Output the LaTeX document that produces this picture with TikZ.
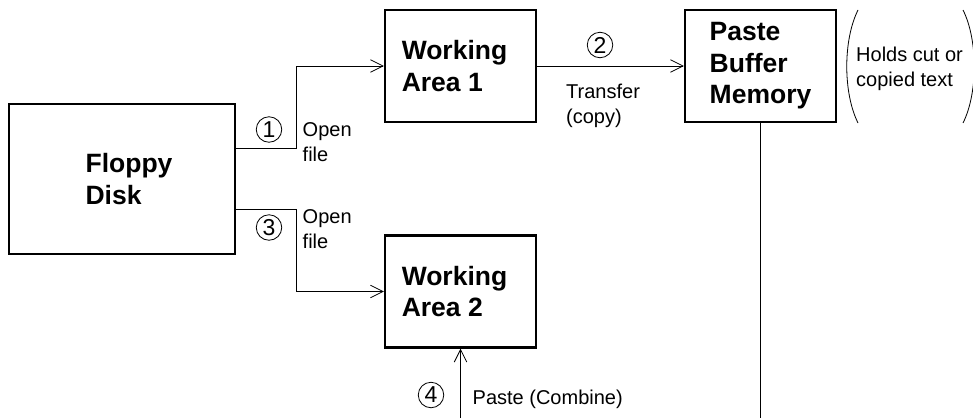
\documentclass[tikz,border=0pt]{standalone}
\usepackage{fontspec}
\setmainfont{Liberation Sans}
\usetikzlibrary{arrows.meta}

\begin{document}
\begin{tikzpicture}[x=1pt, y=-1pt,
    box/.style={draw, line width=2.4pt, align=left, inner sep=0pt,
      font=\fontsize{26.5}{31.5}\selectfont\bfseries},
    note/.style={align=left, inner sep=0pt, font=\fontsize{20}{25}\selectfont},
    num/.style={draw, circle, line width=0.8pt, minimum size=25.5pt, inner sep=0pt,
      font=\fontsize{23}{23}\selectfont},
    flow/.style={line width=0.8pt, -{Straight Barb[length=12.5pt, width=12.5pt]}}]
	% 0. page frame
	\useasboundingbox (0,0) rectangle (973,418);
	
	% 1. boxes (text block nudged as in the drawing)
	\node[box, minimum width=226pt, minimum height=150pt] (floppy) at (122,179)
	  {\hspace*{14pt}Floppy\\\hspace*{14pt}Disk};
	\node[box, minimum width=151pt, minimum height=112pt] (wa1) at (460.5,66)
	  {Working\hspace*{12pt}\\Area 1};
	\node[box, minimum width=151pt, minimum height=112pt] (wa2) at (460.5,291.5)
	  {Working\hspace*{12pt}\\Area 2};
	\node[box, minimum width=151pt, minimum height=112pt] (pbm) at (760.5,66) {Paste\\Buffer\\Memory};
	
	% 2. connectors
	\coordinate (bufend) at (760.5,418);
	\coordinate (pastestart) at (460.5,418);
	\draw[flow] ([yshift=31pt]floppy.east) -- ++(60,0) |- (wa1.west);
	\draw[flow] ([yshift=-30pt]floppy.east) -- ++(60,0) |- (wa2.west);
	\draw[flow] (wa1) -- (pbm);
	\draw[line width=0.8pt] (pbm.south) -- (bufend);
	\draw[flow] (pastestart) -- (wa2.south);
	
	% 3. step numbers and labels
	\node[num] (n1) at (269,129.5) {1};
	\node[note, anchor=north west] (open1) at (302.5,122.5) {Open\\file};
	\node[num] (n2) at (600,45) {2};
	\node[note, anchor=north west] (xfer) at (566,83.5) {Transfer\\(copy)};
	\node[num] (n3) at (269,227.5) {3};
	\node[note, anchor=north west] (open3) at (302.5,209.5) {Open\\file};
	\node[num] (n4) at (431,395) {4};
	\node[note, anchor=base west] (paste) at (472.5,404) {Paste (Combine)};
	
	% 4. side note in brackets
	\node[note, anchor=north west] (holds) at (856,46.5) {Holds cut or\\copied text};
	\draw[line width=0.8pt] (858,10) .. controls (843,40) and (843,93) .. (858,123);
	\draw[line width=0.8pt] (963,10) .. controls (978,40) and (978,93) .. (963,123);
\end{tikzpicture}
\end{document}
